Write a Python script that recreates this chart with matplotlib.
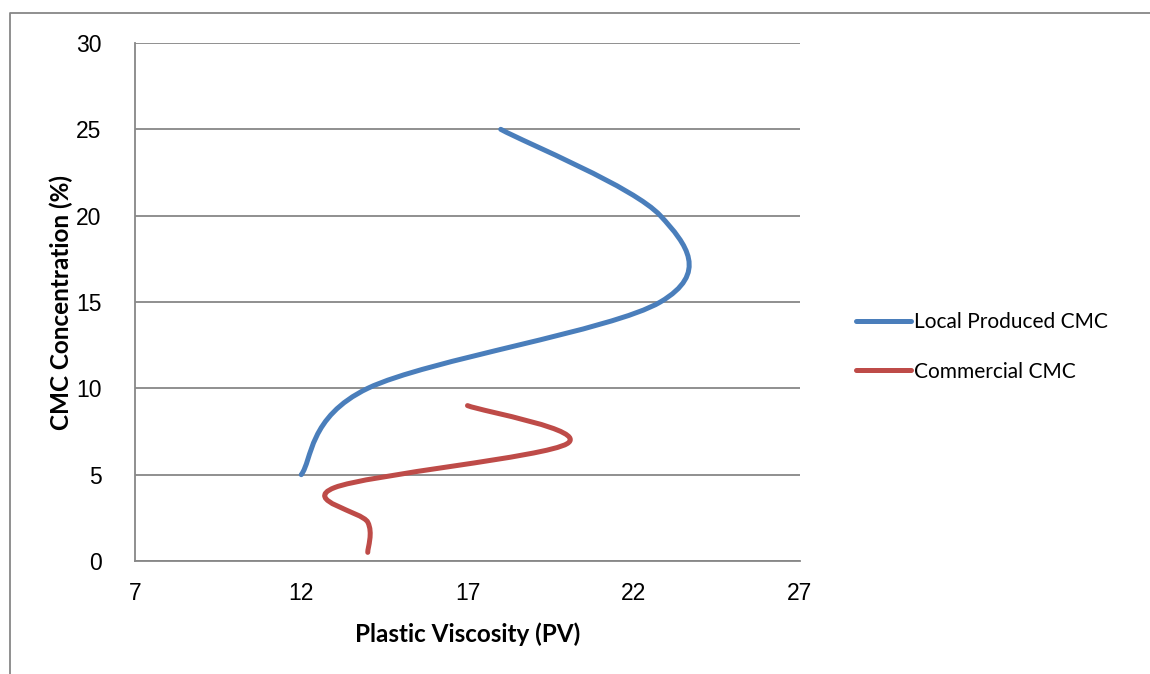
#!/usr/bin/env python3
import numpy as np
import matplotlib
matplotlib.use("Agg")
import matplotlib.pyplot as plt
from matplotlib.path import Path
from matplotlib.patches import PathPatch
from matplotlib.lines import Line2D

# Plastic viscosity (x) against CMC concentration (y)
local_pv = [12, 14, 22.8, 22.8, 18]
local_conc = [5, 10, 15, 20, 25]
commercial_pv = [14, 14, 13, 20, 17]
commercial_conc = [0.5, 2.25, 4.25, 6.8, 9]

x_ticks = [7, 12, 17, 22, 27]
y_ticks = [0, 5, 10, 15, 20, 25, 30]

BLUE = "#4A7EBB"
RED = "#BE4B48"
GRID = "#878787"
LABEL_FONT = ["Lato", "DejaVu Sans"]
TICK_FONT = ["Liberation Sans", "DejaVu Sans"]


def smooth_path(xs, ys):
    # spreadsheet-style smoothed line: cubic Bezier through every point
    pts = np.column_stack([xs, ys]).astype(float)
    n = len(pts)
    verts = [pts[0]]
    codes = [Path.MOVETO]
    for i in range(n - 1):
        prev_p = pts[max(i - 1, 0)]
        next_p = pts[min(i + 2, n - 1)]
        c1 = pts[i] + (pts[i + 1] - prev_p) / 6.0
        c2 = pts[i + 1] - (next_p - pts[i]) / 6.0
        verts += [c1, c2, pts[i + 1]]
        codes += [Path.CURVE4] * 3
    return Path(verts, codes)


fig = plt.figure(figsize=(11.5, 6.74), dpi=100)
ax = fig.add_axes([135 / 1150, 1 - 561 / 674, 665 / 1150, 518 / 674])

for xs, ys, col in [(local_pv, local_conc, BLUE), (commercial_pv, commercial_conc, RED)]:
    patch = PathPatch(smooth_path(xs, ys), facecolor="none", edgecolor=col,
                      lw=3.6, capstyle="round", joinstyle="round", zorder=3)
    ax.add_patch(patch)

ax.set_xlim(7, 27)
ax.set_ylim(0, 30)
ax.set_xticks(x_ticks)
ax.set_yticks(y_ticks)
ax.tick_params(length=0, labelsize=16.5)
for lab in ax.get_xticklabels() + ax.get_yticklabels():
    lab.set_family(TICK_FONT)
ax.tick_params(axis="y", pad=24)
ax.tick_params(axis="x", pad=15)

ax.yaxis.grid(True, color=GRID, lw=1.3)
ax.set_axisbelow(True)
for side in ["top", "right"]:
    ax.spines[side].set_visible(False)
for side in ["left", "bottom"]:
    ax.spines[side].set_color(GRID)
    ax.spines[side].set_linewidth(1.3)

ax.set_xlabel("Plastic Viscosity (PV)", family=LABEL_FONT, fontweight="bold",
              fontsize=17.5, labelpad=13)
ax.set_ylabel("CMC Concentration (%)", family=LABEL_FONT, fontweight="bold",
              fontsize=17.5, labelpad=2)

handles = [Line2D([], [], color=BLUE, lw=3.6, solid_capstyle="round"),
           Line2D([], [], color=RED, lw=3.6, solid_capstyle="round")]
fig.legend(handles, ["Local Produced CMC", "Commercial CMC"],
           loc="center left", bbox_to_anchor=(846 / 1150, 1 - 347 / 674),
           frameon=False, prop={"family": LABEL_FONT, "size": 15},
           handlelength=2.6, handletextpad=0.15, labelspacing=1.4, borderpad=0)

# outer chart frame
fig.add_artist(Line2D([10 / 1150, 10 / 1150, 1], [0, 1 - 13 / 674, 1 - 13 / 674],
                      transform=fig.transFigure, color=GRID, lw=1.3))

fig.savefig("out.png", dpi=100)
